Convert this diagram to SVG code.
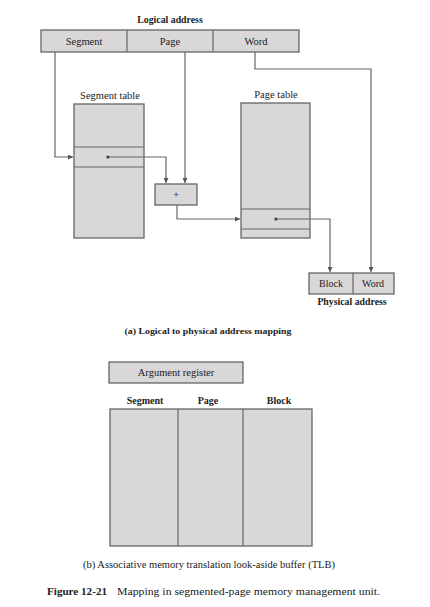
<svg xmlns="http://www.w3.org/2000/svg" width="430" height="607" viewBox="0 0 430 607">
<style>
text{font-family:"Liberation Serif","Times New Roman",serif;fill:#222;text-anchor:middle}
text.s{text-anchor:start}
.box{fill:#d9d7d7;stroke:#666;stroke-width:1.3}
.ln{fill:none;stroke:#666;stroke-width:1.2}
.b{font-weight:bold}
</style>
<defs>
<marker id="ah" viewBox="0 0 10 10" refX="10" refY="5" markerWidth="7" markerHeight="5" markerUnits="userSpaceOnUse" orient="auto">
<path d="M0,0 L10,5 L0,10 z" fill="#555"/>
</marker>
</defs>
<rect width="430" height="607" fill="#fff"/>

<g id="logical-address">
<text x="170" y="23" class="b" font-size="9.8">Logical address</text>
<rect class="box" x="41" y="30" width="258" height="22"/>
<line class="ln" x1="127" y1="30" x2="127" y2="52"/>
<line class="ln" x1="213" y1="30" x2="213" y2="52"/>
<text x="84" y="45" font-size="10.5">Segment</text>
<text x="170" y="45" font-size="10.5">Page</text>
<text x="256" y="45" font-size="10.5">Word</text>
</g>

<g id="segment-table">
<text x="110" y="99" font-size="10.5">Segment table</text>
<rect class="box" x="74" y="104" width="70" height="134"/>
<line class="ln" x1="74" y1="147" x2="144" y2="147"/>
<line class="ln" x1="74" y1="167" x2="144" y2="167"/>
<circle cx="108" cy="157" r="1.6" fill="#333"/>
</g>

<g id="adder">
<rect class="box" x="155" y="184" width="42" height="21"/>
<text x="176" y="198" font-size="10">+</text>
</g>

<g id="page-table">
<text x="276" y="98" font-size="10.5">Page table</text>
<rect class="box" x="241" y="103" width="69" height="135"/>
<line class="ln" x1="241" y1="209" x2="310" y2="209"/>
<line class="ln" x1="241" y1="229" x2="310" y2="229"/>
<circle cx="276" cy="219" r="1.6" fill="#333"/>
</g>

<g id="physical-address">
<rect class="box" x="309" y="273" width="85" height="21"/>
<line class="ln" x1="353" y1="273" x2="353" y2="294"/>
<text x="331" y="287" font-size="10">Block</text>
<text x="373" y="287" font-size="10">Word</text>
<text x="352" y="305" class="b" font-size="9.8">Physical address</text>
</g>

<g id="connectors">
<polyline class="ln" points="55,52 55,157 73,157" marker-end="url(#ah)"/>
<polyline class="ln" points="108,157 166,157 166,183" marker-end="url(#ah)"/>
<polyline class="ln" points="185,52 185,183" marker-end="url(#ah)"/>
<polyline class="ln" points="177,205 177,219 240,219" marker-end="url(#ah)"/>
<polyline class="ln" points="276,219 330,219 330,272" marker-end="url(#ah)"/>
<polyline class="ln" points="255,52 255,69 371,69 371,272" marker-end="url(#ah)"/>
</g>

<text x="208" y="334" class="b" font-size="9" textLength="167" lengthAdjust="spacingAndGlyphs">(a) Logical to physical address mapping</text>

<g id="argument-register">
<rect class="box" x="109" y="362" width="134" height="21"/>
<text x="176" y="376" font-size="10.5">Argument register</text>
</g>

<g id="tlb">
<text x="145" y="404" class="b" font-size="10">Segment</text>
<text x="208" y="404" class="b" font-size="10">Page</text>
<text x="279" y="404" class="b" font-size="10">Block</text>
<rect class="box" x="110" y="409" width="202" height="137"/>
<line class="ln" x1="178" y1="409" x2="178" y2="546"/>
<line class="ln" x1="243" y1="409" x2="243" y2="546"/>
</g>

<text x="209" y="568" font-size="10" textLength="252" lengthAdjust="spacingAndGlyphs">(b) Associative memory translation look-aside buffer (TLB)</text>
<text x="47" y="595" font-size="11" class="b s" textLength="60" lengthAdjust="spacingAndGlyphs">Figure 12-21</text>
<text x="117" y="595" font-size="10.5" class="s" textLength="263" lengthAdjust="spacingAndGlyphs">Mapping in segmented-page memory management unit.</text>
</svg>
